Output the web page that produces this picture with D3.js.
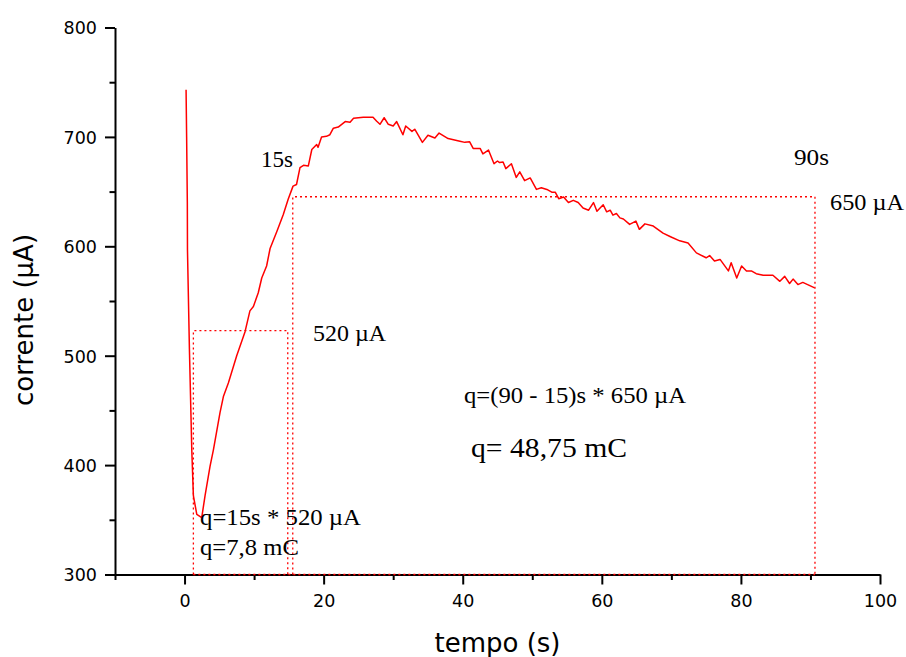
<!DOCTYPE html>
<html>
<head>
<meta charset="utf-8">
<script src="https://cdn.jsdelivr.net/npm/d3@7"></script>
<style>
  html, body { margin: 0; padding: 0; background: #fff; }
  svg { display: block; }
</style>
</head>
<body>
<svg id="chart" width="906" height="657"></svg>
<script>
// ---------- DATA ----------
const time = [0.22,0.3,0.4,0.42,0.7,1.04,1.27,1.76,2.47,2.95,3.67,4.15,5.1,5.6,6.3,7.5,8.7,9.4,9.9,10.6,11.1,11.8,12.3,13.3,14.2,14.9,15.6,16.1,16.6,17.1,17.8,18.3,19.0,19.2,19.7,20.4,20.9,21.4,22.1,23.1,23.8,24.3,25.7,27.1,27.6,28.1,28.7,29.3,30.0,30.5,31.4,31.8,32.7,33.1,34.2,35.0,36.0,36.6,37.9,39.6,40.3,41.0,41.5,42.5,42.9,43.7,44.5,45.0,45.3,45.8,46.2,47.0,47.7,48.2,48.9,49.7,50.6,51.3,52.1,52.8,53.3,53.8,54.5,55.2,55.9,56.6,57.3,58.1,58.8,59.3,60.2,60.7,61.2,61.6,62.1,62.6,63.1,64.0,64.9,65.4,66.2,67.4,68.8,69.8,71.2,72.4,73.6,75.0,75.5,76.2,77.0,78.2,78.6,79.4,80.1,80.8,81.5,82.2,83.2,84.6,85.6,86.3,87.0,87.5,88.2,88.9,89.6,90.6];
const current = [743,700,640,597,506,414,372,355,352,372,399,414,448,463,475,500,522,541,545,557.5,571,582,598,614,629,643,655,656.5,672,674,673.5,688.5,693,690.5,700,700.5,702,708,709,714,713.5,717,718,718,714.5,711.5,717.5,711.5,710,714,702,710,705,707,695,701.5,699,703.5,698.5,696,695,695.5,689.5,689.5,684.5,688,675.5,678,676.5,677,671,675.5,663,668,660,662.5,652,653.5,652,649.5,649.5,643.5,645,640,642,640,635,633,640,632,638,631.5,633,628.5,630,626,625,620,623,615.5,620.5,618.5,612,609,605,603,594,589.5,591.5,586.5,588,577.5,585,571,582,577.5,577.5,575,573.5,573.5,568,572.5,566,570,565,567,565,562];

// charge rectangles (time start, time end, current level)
const rectStart = [1.27, 15.56];
const rectEnd   = [14.84, 90.65];
const rectLevel = [523, 645.3];

const xMajorTicks = [0, 20, 40, 60, 80, 100];
const xMinorTicks = [-10, 10, 30, 50, 70, 90];
const yMajorTicks = [300, 400, 500, 600, 700, 800];
const yMinorTicks = [350, 450, 550, 650, 750];

const xTitle = "tempo (s)";
const yTitle = "corrente (\u00B5A)";

const annotations = [
  { text: "15s", px: 261, py: 167, size: 23, w: 32 },
  { text: "90s", px: 794, py: 165, size: 23, w: 35 },
  { text: "650 \u00B5A", px: 830, py: 210, size: 23, w: 74 },
  { text: "520 \u00B5A", px: 313, py: 341, size: 23, w: 73 },
  { text: "q=(90 - 15)s * 650 \u00B5A", px: 464, py: 403, size: 23, w: 222 },
  { text: "q= 48,75 mC", px: 471, py: 457, size: 28, w: 156 },
  { text: "q=15s * 520 \u00B5A", px: 200, py: 525, size: 23, w: 161 },
  { text: "q=7,8 mC", px: 200, py: 555, size: 23, w: 99 }
];

// ---------- CHART ----------
const svg = d3.select("#chart");
const x = d3.scaleLinear().domain([-10, 100]).range([115, 880]);
const y = d3.scaleLinear().domain([300, 800]).range([574.5, 27.5]);

const axisFont = "'DejaVu Sans', Verdana, sans-serif";
const serif = "'Liberation Serif', 'Times New Roman', serif";

// X axis
const gx = svg.append("g").attr("transform", `translate(0,${y(300)})`);
gx.call(d3.axisBottom(x).tickValues(xMajorTicks).tickSize(10).tickSizeOuter(0).tickFormat(d3.format("d")));
gx.append("g").call(d3.axisBottom(x).tickValues(xMinorTicks).tickSize(5.5).tickSizeOuter(0).tickFormat(""))
  .select(".domain").remove();
gx.selectAll("path,line").attr("stroke", "#000").attr("stroke-width", 2);
gx.selectAll("text").attr("y", 32.5).attr("dy", 0)
  .attr("font-family", axisFont).attr("font-size", 17.5).attr("fill", "#000");

// Y axis
const gy = svg.append("g").attr("transform", `translate(${x(-10)},0)`);
gy.call(d3.axisLeft(y).tickValues(yMajorTicks).tickSize(10).tickSizeOuter(0).tickFormat(d3.format("d")));
gy.append("g").call(d3.axisLeft(y).tickValues(yMinorTicks).tickSize(5.5).tickSizeOuter(0).tickFormat(""))
  .select(".domain").remove();
gy.selectAll("path,line").attr("stroke", "#000").attr("stroke-width", 2);
gy.selectAll("text").attr("x", -18).attr("dy", "0.36em")
  .attr("font-family", axisFont).attr("font-size", 17.5).attr("fill", "#000");

// Axis titles
svg.append("text").attr("x", 497.5).attr("y", 652).attr("text-anchor", "middle")
  .attr("font-family", axisFont).attr("font-size", 26).attr("fill", "#000").text(xTitle);
svg.append("text").attr("transform", "translate(33,320) rotate(-90)").attr("text-anchor", "middle")
  .attr("font-family", axisFont).attr("font-size", 26).attr("fill", "#000").text(yTitle);

// Dotted rectangles
const dotted = svg.append("g").attr("fill", "none").attr("stroke", "#ff0000")
  .attr("stroke-width", 1.3).attr("stroke-dasharray", "2,3");
rectStart.forEach((s, i) => {
  const e = rectEnd[i], lv = rectLevel[i];
  const line = d3.line().x(d => x(d[0])).y(d => y(d[1]));
  dotted.append("path").attr("d", line([[s, 300], [s, lv], [e, lv], [e, 300]]));
});
dotted.append("path").attr("d", d3.line().x(d => x(d[0])).y(d => y(d[1]))([[rectStart[0], 300], [rectEnd[1], 300]]));

// Curve
const pts = time.map((t, i) => [t, current[i]]);
svg.append("path").attr("fill", "none").attr("stroke", "#ff0000").attr("stroke-width", 1.5)
  .attr("stroke-linejoin", "round")
  .attr("d", d3.line().x(d => x(d[0])).y(d => y(d[1]))(pts));

// Annotations
svg.append("g").selectAll("text").data(annotations).join("text")
  .attr("x", d => d.px).attr("y", d => d.py)
  .attr("font-family", serif).attr("font-size", d => d.size).attr("fill", "#000")
  .attr("textLength", d => d.w).attr("lengthAdjust", "spacingAndGlyphs")
  .text(d => d.text);
</script>
</body>
</html>
